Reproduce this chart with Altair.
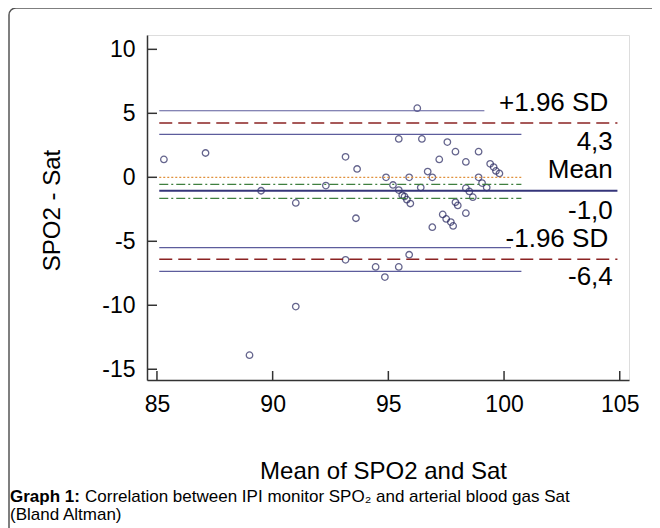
import altair as alt
import pandas as pd

# ---- data ----
mean_vals = [85.3, 87.1, 89.5, 91.0, 91.0, 89.0, 92.3, 93.15, 93.65, 93.6,
             93.15, 94.45, 94.85, 94.9, 95.2, 95.45, 95.6, 95.8, 95.95, 95.9,
             95.45, 96.25, 96.45, 96.7, 96.9, 96.4, 96.9, 95.9, 95.45, 97.55,
             97.9, 98.9, 97.2, 98.35, 99.4, 99.55, 99.65, 99.8, 98.9, 99.05,
             99.25, 98.35, 98.5, 98.65, 97.9, 98.0, 98.35, 97.35, 97.5, 97.7,
             97.8, 95.7]
diff_vals = [1.4, 1.9, -1.05, -2.0, -10.1, -13.9, -0.65, 1.6, 0.65, -3.2,
             -6.45, -7.0, -7.8, 0.0, -0.6, -1.0, -1.4, -1.75, -2.05, 0.0,
             3.0, 5.4, 3.0, 0.45, 0.0, -0.8, -3.9, -6.05, -7.0, 2.75,
             2.0, 2.0, 1.4, 1.2, 1.05, 0.8, 0.5, 0.3, 0.0, -0.45,
             -0.8, -0.85, -1.1, -1.55, -1.95, -2.2, -2.8, -2.9, -3.25, -3.5,
             -3.8, -1.5]

ref_y = [5.2, 4.25, 3.35, 0.0, -0.55, -1.05, -1.65, -5.5, -6.4, -7.35]
ref_x0 = [85.1] * 10
ref_x1 = [99.15, 104.9, 100.75, 100.75, 100.75, 104.9, 100.75, 100.3, 104.9, 100.75]
ref_kind = ["ci", "loa", "ci", "zero", "meanci", "mean", "meanci", "ci", "loa", "ci"]

label_text = ["+1.96 SD", "4,3", "Mean", "-1,0", "-1.96 SD", "-6,4"]
label_x = [104.5, 104.7, 104.7, 104.7, 104.5, 104.7]
label_y = [5.83, 2.78, 0.57, -2.6, -4.84, -7.77]

x_ticks = [85, 90, 95, 100, 105]
y_ticks = [-15, -10, -5, 0, 5, 10]

FONT = "Liberation Sans"
W, H = 482, 345

xs = alt.Scale(domain=[84.57, 105.4], nice=False, zero=False)
ys = alt.Scale(domain=[-15.84, 11.12], nice=False, zero=False)

pts = pd.DataFrame({"m": mean_vals, "d": diff_vals})
refs = pd.DataFrame({"d": ref_y, "m": ref_x0, "m2": ref_x1, "kind": ref_kind})
labs = pd.DataFrame({"t": label_text, "m": label_x, "d": label_y})
xt = pd.DataFrame({"m": x_ticks})
yt = pd.DataFrame({"d": y_ticks})
one = pd.DataFrame({"a": [0]})

X_AXIS = alt.Axis(
    values=x_ticks, ticks=False, grid=False, labelFontSize=23, labelFont=FONT,
    labelColor="#000", labelPadding=13, domainColor="#333", domainWidth=1.5,
    labelExpr="datum.value + ''",
    title="Mean of SPO2 and Sat", titleFont=FONT, titleFontSize=24,
    titleFontWeight="normal", titleColor="#000", titleX=236, titleY=91,
    titleBaseline="middle")
Y_AXIS = alt.Axis(
    values=y_ticks, ticks=False, grid=False, labelFontSize=23, labelFont=FONT,
    labelColor="#000", labelPadding=12, domainColor="#333", domainWidth=1.5,
    labelExpr="datum.value + ''",
    title="SPO2 - Sat", titleFont=FONT, titleFontSize=24,
    titleFontWeight="normal", titleColor="#000", titleX=-95, titleY=175,
    titleBaseline="middle", titleAngle=-90)

XE = alt.X("m:Q", scale=xs, axis=X_AXIS, title="Mean of SPO2 and Sat")
YE = alt.Y("d:Q", scale=ys, axis=Y_AXIS, title="SPO2 - Sat")

points = alt.Chart(pts).mark_point(
    shape="circle", size=42, filled=False, color="#24245e", strokeWidth=1.3
).encode(x=XE, y=YE)

def ref_layer(kind, color, width, dash=None):
    kw = dict(color=color, strokeWidth=width)
    if dash:
        kw["strokeDash"] = dash
    return alt.Chart(refs).transform_filter(alt.datum.kind == kind).mark_rule(**kw).encode(
        x=XE, x2="m2:Q", y=YE,
    )

ci = ref_layer("ci", "#5c5c9c", 1.2)
loa = ref_layer("loa", "#8b2323", 1.5, [13, 6])
zero = ref_layer("zero", "#e0913c", 1.2, [2, 2])
meanci = ref_layer("meanci", "#3f7f3f", 1.3, [9, 3, 2, 3])
meanl = ref_layer("mean", "#35357a", 2)

labels = alt.Chart(labs).mark_text(
    align="right", baseline="middle", fontSize=26, font=FONT, color="#000"
).encode(x=XE, y=YE, text="t:N")

ytick = alt.Chart(yt).mark_rule(color="#333", strokeWidth=1.5).encode(
    y=YE, x=alt.value(0), x2=alt.value(10)
)
xtick = alt.Chart(xt).mark_rule(color="#333", strokeWidth=1.5).encode(
    x=XE, y=alt.value(H), y2=alt.value(H - 9)
)

frame = alt.Chart(one).mark_rect(
    fillOpacity=0, stroke="#555", strokeWidth=1.5, cornerRadius=7
).encode(x=alt.value(-138), x2=alt.value(720), y=alt.value(-27), y2=alt.value(700))

CAP = 17
cap_bold = alt.Chart(one).mark_text(
    align="left", baseline="alphabetic", fontSize=CAP, font=FONT, fontWeight="bold", color="#000"
).encode(x=alt.value(-137), y=alt.value(467), text=alt.value("Graph 1:"))
cap1 = alt.Chart(one).mark_text(
    align="left", baseline="alphabetic", fontSize=CAP, font=FONT, color="#000"
).encode(x=alt.value(-62), y=alt.value(467),
         text=alt.value("Correlation between IPI monitor SPO\u2082 and arterial blood gas Sat"))
cap2 = alt.Chart(one).mark_text(
    align="left", baseline="alphabetic", fontSize=CAP, font=FONT, color="#000"
).encode(x=alt.value(-137), y=alt.value(485), text=alt.value("(Bland Altman)"))

chart = alt.layer(
    points, ci, loa, zero, meanci, meanl, labels, ytick, xtick, frame, cap_bold, cap1, cap2
).properties(
    width=W, height=H,
    autosize=alt.AutoSizeParams(type="none"),
    padding={"left": 139, "top": 27, "right": 23, "bottom": 148},
).configure_view(strokeWidth=0).configure(background="white")

chart.save("out.html", embed_options={"renderer": "svg", "actions": False})
